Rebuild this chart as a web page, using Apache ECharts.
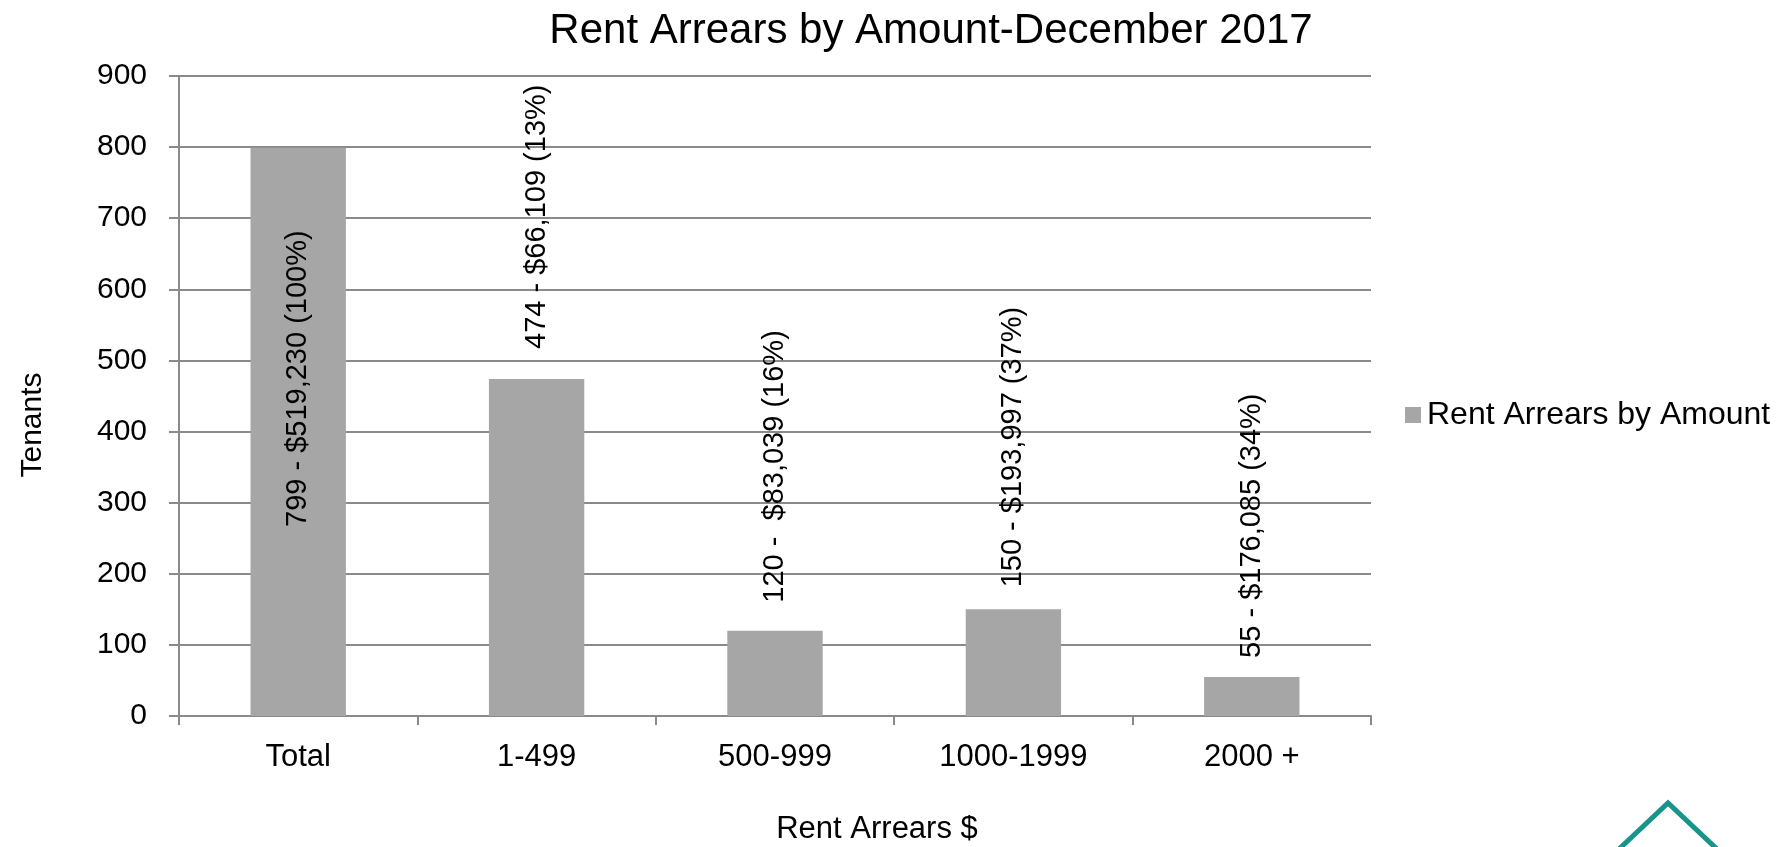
<!DOCTYPE html>
<html>
<head>
<meta charset="utf-8">
<script src="https://cdn.jsdelivr.net/npm/echarts@6/dist/echarts.min.js"></script>
<style>
  html, body { margin: 0; padding: 0; background: #ffffff; }
  #chart { width: 1789px; height: 847px; }
</style>
</head>
<body>
<div id="chart"></div>
<script>
// Arrears brackets and tenant counts
const categories = ['Total', '1-499', '500-999', '1000-1999', '2000 +'];
const tenants = [799, 474, 120, 150, 55];
const valueLabels = [
  '799 - $519,230 (100%)',
  '474 - $66,109 (13%)',
  '120 -  $83,039 (16%)',
  '150 - $193,997 (37%)',
  '55 - $176,085 (34%)'
];
const yTicks = { min: 0, max: 900, interval: 100 };

const FONT = '"Liberation Sans", Arial, sans-serif';
const GRID_GRAY = '#8a8a8a';

// Label placement per bar: the total sits inside its bar, the rest above
const labelPlacement = [
  { position: 'insideBottom', distance: 189 },
  { position: 'top', distance: 30 },
  { position: 'top', distance: 28 },
  { position: 'top', distance: 22 },
  { position: 'top', distance: 19 }
];

const barData = tenants.map((v, i) => ({
  value: v,
  label: {
    show: true,
    position: labelPlacement[i].position,
    distance: labelPlacement[i].distance,
    rotate: 90,
    align: 'left',
    verticalAlign: 'middle',
    formatter: () => valueLabels[i]
  }
}));

const chart = echarts.init(document.getElementById('chart'), null, { renderer: 'canvas' });

chart.setOption({
  backgroundColor: '#ffffff',
  animation: false,
  title: {
    text: 'Rent Arrears by Amount-December 2017',
    left: 926,
    top: 5,
    textAlign: 'center',
    textStyle: { fontFamily: FONT, fontSize: 42, fontWeight: 'normal', color: '#000' }
  },
  legend: {
    data: ['Rent Arrears by Amount'],
    left: 1400,
    top: 394,
    orient: 'vertical',
    itemWidth: 16,
    itemHeight: 16,
    itemGap: 8,
    icon: 'rect',
    textStyle: { fontFamily: FONT, fontSize: 32, color: '#000', padding: [0, 0, 0, 1] }
  },
  grid: { left: 179, right: 418, top: 76, bottom: 131, containLabel: false, outerBoundsMode: 'none' },
  xAxis: {
    type: 'category',
    data: categories,
    name: 'Rent Arrears $',
    nameLocation: 'middle',
    nameGap: 98,
    nameTextStyle: { fontFamily: FONT, fontSize: 31, color: '#000', padding: [0, 0, 0, 204] },
    axisLine: { show: true, lineStyle: { color: GRID_GRAY, width: 2 } },
    axisTick: { show: true, length: 9, lineStyle: { color: GRID_GRAY, width: 2 } },
    axisLabel: { fontFamily: FONT, fontSize: 31, color: '#000', margin: 26 },
    splitLine: { show: false }
  },
  yAxis: {
    type: 'value',
    min: yTicks.min,
    max: yTicks.max,
    interval: yTicks.interval,
    name: 'Tenants',
    nameLocation: 'middle',
    nameRotate: 90,
    nameGap: 131,
    nameTextStyle: { fontFamily: FONT, fontSize: 30, color: '#000', padding: [0, 58, 0, 0] },
    axisLine: { show: true, lineStyle: { color: GRID_GRAY, width: 2 } },
    axisTick: { show: true, length: 10, lineStyle: { color: GRID_GRAY, width: 2 } },
    axisLabel: { fontFamily: FONT, fontSize: 30, color: '#000', margin: 32 },
    splitLine: { show: true, lineStyle: { color: GRID_GRAY, width: 2 } }
  },
  series: [{
    name: 'Rent Arrears by Amount',
    type: 'bar',
    barWidth: '40%',
    data: barData,
    itemStyle: { color: '#a6a6a6' },
    label: {
      fontFamily: FONT,
      fontSize: 29,
      color: '#000'
    }
  }],
  graphic: [{
    // roof-shaped mark in the lower right corner
    type: 'polyline',
    silent: true,
    shape: { points: [[1617, 851], [1668, 803], [1719, 851]] },
    style: { stroke: '#17958a', lineWidth: 5, fill: null }
  }]
});
</script>
</body>
</html>
